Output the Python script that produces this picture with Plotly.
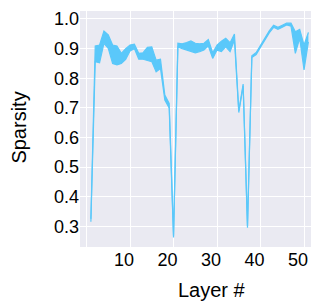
import plotly.graph_objects as go

layers = list(range(1, 52))
sparsity_low = [0.315, 0.856, 0.852, 0.918, 0.901, 0.850, 0.845, 0.850, 0.864, 0.892,
                0.900, 0.864, 0.864, 0.861, 0.856, 0.822, 0.833, 0.726, 0.700, 0.262,
                0.906, 0.900, 0.895, 0.890, 0.886, 0.890, 0.895, 0.909, 0.867, 0.895,
                0.890, 0.906, 0.890, 0.929, 0.684, 0.774, 0.295, 0.870, 0.880, 0.905,
                0.931, 0.953, 0.972, 0.965, 0.972, 0.980, 0.976, 0.884, 0.935, 0.828,
                0.923]
sparsity_high = [0.325, 0.909, 0.912, 0.959, 0.946, 0.912, 0.909, 0.884, 0.900, 0.912,
                 0.915, 0.884, 0.886, 0.904, 0.906, 0.861, 0.864, 0.743, 0.715, 0.268,
                 0.918, 0.916, 0.920, 0.926, 0.918, 0.916, 0.918, 0.931, 0.886, 0.912,
                 0.925, 0.935, 0.920, 0.949, 0.690, 0.780, 0.301, 0.876, 0.887, 0.912,
                 0.938, 0.960, 0.979, 0.972, 0.979, 0.986, 0.986, 0.957, 0.965, 0.912,
                 0.955]
x_ticks = [10, 20, 30, 40, 50]
y_ticks = [0.3, 0.4, 0.5, 0.6, 0.7, 0.8, 0.9, 1.0]

color = "#5AC8FA"

fig = go.Figure()
fig.add_trace(go.Scatter(x=layers, y=sparsity_low, mode="lines",
                         line=dict(color=color, width=1.2), showlegend=False))
fig.add_trace(go.Scatter(x=layers, y=sparsity_high, mode="lines", fill="tonexty",
                         fillcolor=color, line=dict(color=color, width=1.2), showlegend=False))

font = dict(family="Liberation Sans, Arial, sans-serif", size=18, color="black")
title_font = dict(family="Liberation Sans, Arial, sans-serif", size=20, color="black")
fig.update_layout(
    width=303, height=294,
    margin=dict(l=72, r=0, t=3, b=55),
    paper_bgcolor="white", plot_bgcolor="#EAEAF2",
    font=font,
    xaxis=dict(range=[-1.5, 51.6], tickvals=[0] + x_ticks, ticktext=[""] + [str(t) for t in x_ticks],
               showgrid=True, gridcolor="white", gridwidth=1, zeroline=False,
               showline=False, ticks="", tickfont=font, ticklabelshift=-6),
    yaxis=dict(range=[0.23, 1.027], tickvals=y_ticks, ticktext=[f"{v:.1f}" for v in y_ticks],
               showgrid=True, gridcolor="white", gridwidth=1, zeroline=False,
               showline=False, ticks="", tickfont=font),
    annotations=[
        dict(text="Layer #", xref="paper", yref="paper", x=0.57, y=-0.182,
             xanchor="center", yanchor="middle", showarrow=False, font=title_font),
        dict(text="Sparsity", xref="paper", yref="paper", x=-0.264, y=0.506,
             xanchor="center", yanchor="middle", showarrow=False, textangle=-90,
             font=title_font),
    ],
)

fig.write_html("out.html")
